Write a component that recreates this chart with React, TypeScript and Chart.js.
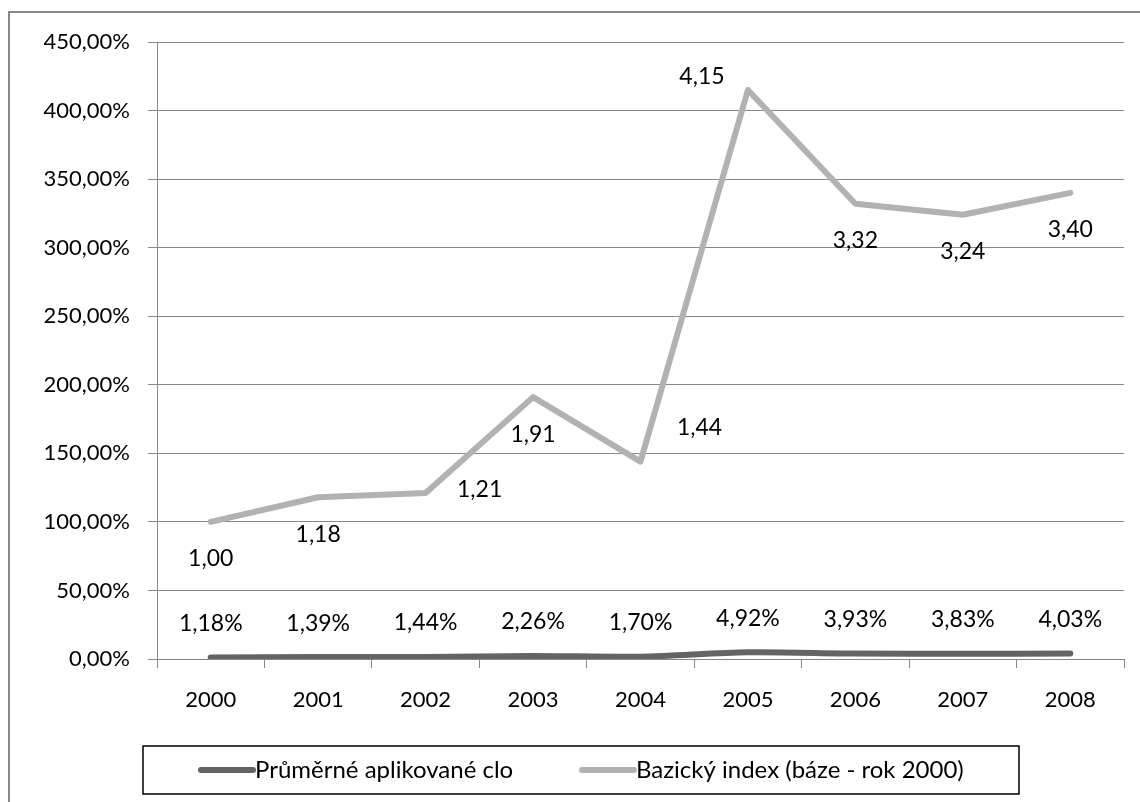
import React, { useEffect, useRef } from "react";
import { Chart, registerables } from "chart.js";

Chart.register(...registerables);

const years = ["2000", "2001", "2002", "2003", "2004", "2005", "2006", "2007", "2008"];
const cloValues = [1.18, 1.39, 1.44, 2.26, 1.7, 4.92, 3.93, 3.83, 4.03];
const indexValues = [100, 118, 121, 191, 144, 415, 332, 324, 340];
const indexLabelPlacement = ["below", "below", "right", "below", "upperRight", "upperLeft", "below", "below", "below"];
const cloLabel = "Průměrné aplikované clo";
const indexLabel = "Bazický index (báze - rok 2000)";
const yTickMin = 0;
const yTickMax = 450;
const yTickStep = 50;

const FONT = "Lato, 'Open Sans', sans-serif";
const DARK = "#646464";
const LIGHT = "#b2b2b2";
const GRID = "#878787";

const fmt = (v: number, d = 2) => v.toFixed(d).replace(".", ",");

const placementOffset: Record<string, [number, number]> = {
  below: [0, 37],
  right: [54, -4],
  upperRight: [59, -34],
  upperLeft: [-46, -13],
  above: [0, -34],
};

const decorPlugin = {
  id: "decor",
  beforeDraw(chart: any) {
    const ctx = chart.ctx;
    ctx.save();
    ctx.strokeStyle = GRID;
    ctx.lineWidth = 2;
    ctx.strokeRect(9, 12, chart.width + 20, chart.height + 20);
    ctx.restore();
  },
  afterDatasetsDraw(chart: any) {
    const ctx = chart.ctx;
    ctx.save();
    ctx.font = `23px ${FONT}`;
    ctx.fillStyle = "#000";
    ctx.textAlign = "center";
    ctx.textBaseline = "middle";
    const m0 = chart.getDatasetMeta(0);
    m0.data.forEach((pt: any, i: number) => {
      const [dx, dy] = placementOffset.above;
      ctx.fillText(fmt(cloValues[i]) + "%", pt.x + dx, pt.y + dy);
    });
    const m1 = chart.getDatasetMeta(1);
    m1.data.forEach((pt: any, i: number) => {
      const [dx, dy] = placementOffset[indexLabelPlacement[i]];
      ctx.fillText(fmt(indexValues[i] / 100), pt.x + dx, pt.y + dy);
    });

    // legend
    const ca = chart.chartArea;
    const lx = ca.left - 14;
    const ly = 746;
    const lw = 876;
    const lh = 48;
    ctx.strokeStyle = "#000";
    ctx.lineWidth = 1.5;
    ctx.strokeRect(lx, ly, lw, lh);
    const cy = ly + lh / 2;
    const items = [
      { x: lx + 55, color: DARK, text: chart.data.datasets[0].label },
      { x: lx + 436, color: LIGHT, text: chart.data.datasets[1].label },
    ];
    ctx.textAlign = "left";
    ctx.font = `24px ${FONT}`;
    items.forEach((it) => {
      ctx.beginPath();
      ctx.strokeStyle = it.color;
      ctx.lineWidth = 6;
      ctx.lineCap = "round";
      ctx.moveTo(it.x + 3, cy);
      ctx.lineTo(it.x + 55, cy);
      ctx.stroke();
      ctx.fillStyle = "#000";
      ctx.fillText(it.text, it.x + 57, cy);
    });
    ctx.restore();
  },
};

export default function App() {
  const ref = useRef<HTMLCanvasElement>(null);
  useEffect(() => {
    document.body.style.margin = "0";
    const chart = new Chart(ref.current!, {
      type: "line",
      data: {
        labels: years,
        datasets: [
          {
            label: cloLabel,
            data: cloValues,
            borderColor: DARK,
            backgroundColor: DARK,
            borderWidth: 6,
            pointRadius: 0,
            tension: 0.3,
            borderCapStyle: "round",
            borderJoinStyle: "round",
          },
          {
            label: indexLabel,
            data: indexValues,
            borderColor: LIGHT,
            backgroundColor: LIGHT,
            borderWidth: 6,
            pointRadius: 0,
            tension: 0,
            borderCapStyle: "round",
            borderJoinStyle: "round",
          },
        ],
      },
      options: {
        animation: false,
        responsive: false,
        devicePixelRatio: 1,
        layout: { padding: { left: 0, top: 42, right: 16, bottom: 0 } },
        plugins: { legend: { display: false }, tooltip: { enabled: false } },
        scales: {
          x: {
            offset: true,
            grid: { offset: true, drawOnChartArea: false, color: GRID, tickLength: 9, lineWidth: 1 },
            border: { color: GRID, width: 1 },
            ticks: { color: "#000", font: { family: FONT, size: 22 }, padding: 19, maxRotation: 0 },
            afterFit: (s: any) => {
              s.height = 143;
            },
          },
          y: {
            min: yTickMin,
            max: yTickMax,
            grid: { color: GRID, tickLength: 9, lineWidth: 1 },
            border: { color: GRID, width: 1 },
            ticks: {
              stepSize: yTickStep,
              color: "#000",
              font: { family: FONT, size: 22 },
              padding: 18,
              callback: (v: any) => fmt(Number(v)) + "%",
            },
            afterFit: (s: any) => {
              s.width = 157;
            },
          },
        },
      },
      plugins: [decorPlugin],
    } as any);
    return () => chart.destroy();
  }, []);
  return (
    <div style={{ width: 1140, height: 802 }}>
      <canvas ref={ref} width={1140} height={802} style={{ display: "block" }} />
    </div>
  );
}
